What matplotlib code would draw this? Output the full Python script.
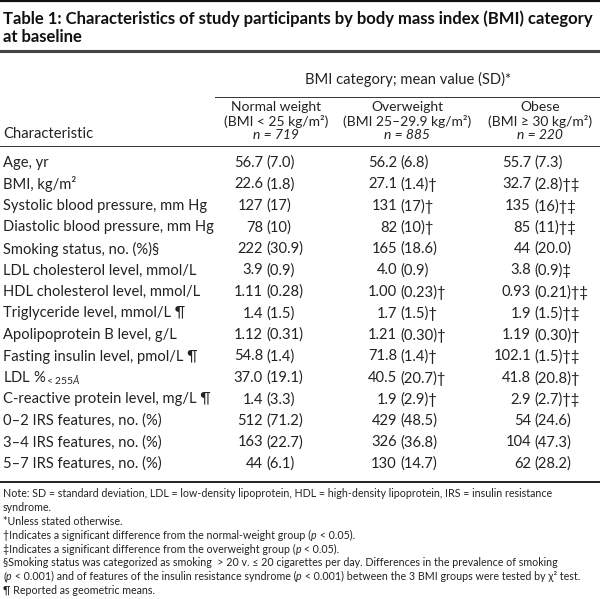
import matplotlib
matplotlib.use("Agg")
import matplotlib.pyplot as plt

plt.rcParams['font.family'] = ['Lato', 'DejaVu Sans']
plt.rcParams['mathtext.fontset'] = 'custom'
plt.rcParams['mathtext.rm'] = 'Lato'
plt.rcParams['mathtext.it'] = 'Lato:italic'

title_lines = ["Table 1: Characteristics of study participants by body mass index (BMI) category",
               "at baseline"]
group_header = "BMI category; mean value (SD)*"
col_names = ["Normal weight", "Overweight", "Obese"]
col_ranges = ["(BMI < 25 kg/m²)", "(BMI 25–29.9 kg/m²)", "(BMI ≥ 30 kg/m²)"]
col_n = ["719", "885", "220"]

characteristics = [
    "Age, yr", "BMI, kg/m²", "Systolic blood pressure, mm Hg",
    "Diastolic blood pressure, mm Hg", "Smoking status, no. (%)§",
    "LDL cholesterol level, mmol/L", "HDL cholesterol level, mmol/L",
    "Triglyceride level, mmol/L ¶", "Apolipoprotein B level, g/L",
    "Fasting insulin level, pmol/L ¶", "LDL %$_{<255Å}$",
    "C-reactive protein level, mg/L ¶", "0–2 IRS features, no. (%)",
    "3–4 IRS features, no. (%)", "5–7 IRS features, no. (%)",
]

normal_mean = ["56.7", "22.6", "127", "78", "222", "3.9", "1.11", "1.4", "1.12", "54.8", "37.0", "1.4", "512", "163", "44"]
normal_sd = ["7.0", "1.8", "17", "10", "30.9", "0.9", "0.28", "1.5", "0.31", "1.4", "19.1", "3.3", "71.2", "22.7", "6.1"]
normal_mark = [""] * 15

over_mean = ["56.2", "27.1", "131", "82", "165", "4.0", "1.00", "1.7", "1.21", "71.8", "40.5", "1.9", "429", "326", "130"]
over_sd = ["6.8", "1.4", "17", "10", "18.6", "0.9", "0.23", "1.5", "0.30", "1.4", "20.7", "2.9", "48.5", "36.8", "14.7"]
over_mark = ["", "†", "†", "†", "", "", "†", "†", "†", "†", "†", "†", "", "", ""]

obese_mean = ["55.7", "32.7", "135", "85", "44", "3.8", "0.93", "1.9", "1.19", "102.1", "41.8", "2.9", "54", "104", "62"]
obese_sd = ["7.3", "2.8", "16", "11", "20.0", "0.9", "0.21", "1.5", "0.30", "1.5", "20.8", "2.7", "24.6", "47.3", "28.2"]
obese_mark = ["", "†‡", "†‡", "†‡", "", "‡", "†‡", "†‡", "†", "†‡", "†", "†‡", "", "", ""]

# footnotes: segments of (text, italic?)
footnotes = [
    [("Note: SD = standard deviation, LDL = low-density lipoprotein, HDL = high-density lipoprotein, IRS = insulin resistance", False)],
    [("syndrome.", False)],
    [("*Unless stated otherwise.", False)],
    [("†Indicates a significant difference from the normal-weight group (", False), ("p", True), (" < 0.05).", False)],
    [("‡Indicates a significant difference from the overweight group (", False), ("p", True), (" < 0.05).", False)],
    [("§Smoking status was categorized as smoking  > 20 v. ≤ 20 cigarettes per day. Differences in the prevalence of smoking", False)],
    [("(", False), ("p", True), (" < 0.001) and of features of the insulin resistance syndrome (", False), ("p", True),
     (" < 0.001) between the 3 BMI groups were tested by χ² test.", False)],
    [("¶ Reported as geometric means.", False)],
]

fig = plt.figure(figsize=(6.0, 5.99), dpi=100)
ax = fig.add_axes([0, 0, 1, 1])
ax.set_xlim(0, 600)
ax.set_ylim(599, 0)
ax.axis('off')
renderer = fig.canvas.get_renderer()

txt = '#222222'
# title
ax.text(3, 19, title_lines[0], fontsize=12.0, fontweight='bold', va='center', ha='left', color='#111111')
ax.text(3, 37, title_lines[1], fontsize=12.0, fontweight='bold', va='center', ha='left', color='#111111')

# rules
ax.plot([0, 600], [1, 1], color='#111111', lw=1.6)
ax.plot([0, 600], [50.5, 50.5], color='#444444', lw=2.2)
ax.plot([215, 600], [97, 97], color='#333333', lw=0.7)
ax.plot([0, 600], [146, 146], color='#333333', lw=0.7)
ax.plot([0, 600], [482, 482], color='#111111', lw=1.3)

fs = 10.6
hfs = 10.0
ax.text(408, 79, group_header, fontsize=fs, ha='center', va='center', color=txt)
centers = [276, 407, 540]
for c, nm, rg, n in zip(centers, col_names, col_ranges, col_n):
    ax.text(c, 107, nm, fontsize=hfs, ha='center', va='center', color=txt)
    ax.text(c, 121, rg, fontsize=hfs, ha='center', va='center', color=txt)
    ax.text(c, 135, "n = " + n, fontsize=hfs, ha='center', va='center', color=txt, style='italic')
ax.text(3, 134, "Characteristic", fontsize=fs, ha='left', va='center', color=txt)

row_y0 = 163
row_dy = 21.5
paren_x = [266, 400, 534]
cols = [(normal_mean, normal_sd, normal_mark),
        (over_mean, over_sd, over_mark),
        (obese_mean, obese_sd, obese_mark)]
for i, ch in enumerate(characteristics):
    y = row_y0 + i * row_dy
    ax.text(3, y, ch, fontsize=fs, ha='left', va='center', color=txt)
    for px, (m, s, mk) in zip(paren_x, cols):
        ax.text(px - 3, y, m[i], fontsize=fs, ha='right', va='center', color=txt)
        ax.text(px, y, "(" + s[i] + ")" + mk[i], fontsize=fs, ha='left', va='center', color=txt)

fn_y0 = 497
fn_dy = 13.9
for i, segs in enumerate(footnotes):
    x = 3
    y = fn_y0 + i * fn_dy
    for s, it in segs:
        t = ax.text(x, y, s, fontsize=7.7, ha='left', va='baseline', color=txt,
                    style='italic' if it else 'normal')
        x += t.get_window_extent(renderer).width

fig.savefig("out.png", dpi=100)
